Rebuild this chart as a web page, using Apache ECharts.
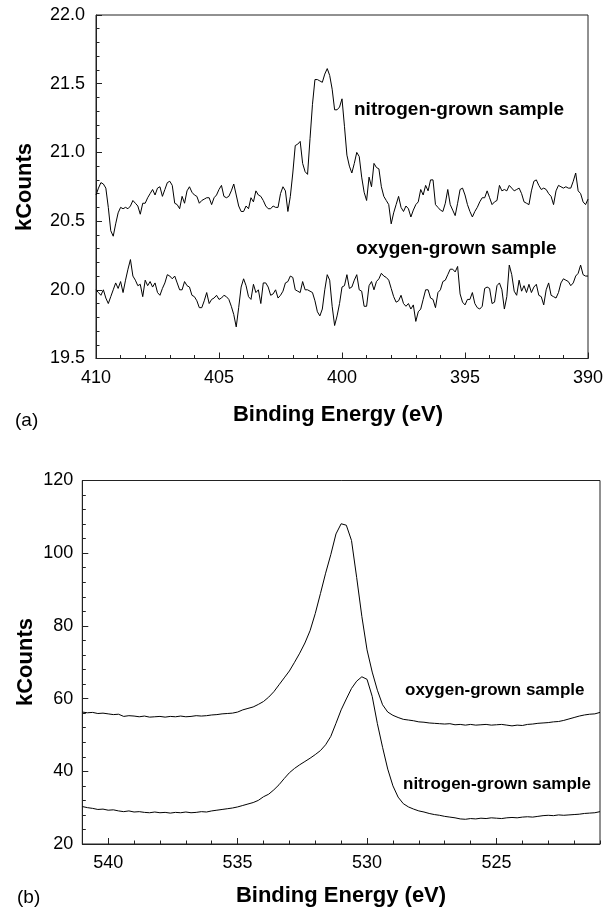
<!DOCTYPE html>
<html><head><meta charset="utf-8">
<script src="https://cdn.jsdelivr.net/npm/echarts@6/dist/echarts.min.js"></script>
<style>html,body{margin:0;padding:0;background:#fff}#c{width:616px;height:913px}</style>
</head><body><div id="c"></div>
<script>
// Panel (a): N 1s region, sampled every 0.1 eV from 410 eV down to 390 eV
const eStartA = 410, eStepA = -0.1;
const nitrogenA = [
20.69,20.74,20.78,20.77,20.74,20.60,20.43,20.39,20.48,20.56,
20.60,20.59,20.60,20.59,20.61,20.65,20.63,20.61,20.55,20.63,
20.63,20.67,20.70,20.73,20.69,20.74,20.75,20.68,20.73,20.78,
20.79,20.76,20.63,20.62,20.59,20.68,20.63,20.72,20.75,20.71,
20.69,20.68,20.63,20.65,20.66,20.67,20.67,20.62,20.67,20.69,
20.73,20.76,20.68,20.67,20.68,20.72,20.77,20.69,20.61,20.57,
20.57,20.61,20.59,20.67,20.64,20.72,20.69,20.68,20.65,20.61,
20.59,20.59,20.61,20.60,20.60,20.70,20.75,20.72,20.57,20.68,
20.85,21.05,21.06,21.08,20.92,20.86,20.84,21.10,21.35,21.53,
21.53,21.52,21.51,21.57,21.61,21.56,21.46,21.31,21.31,21.33,
21.39,21.19,20.98,20.90,20.85,20.92,21.00,20.97,20.82,20.71,
20.65,20.82,20.75,20.92,20.89,20.88,20.75,20.68,20.65,20.62,
20.48,20.56,20.62,20.68,20.60,20.57,20.61,20.59,20.53,20.58,
20.62,20.64,20.73,20.69,20.76,20.72,20.80,20.80,20.62,20.60,
20.58,20.57,20.63,20.73,20.62,20.58,20.54,20.63,20.73,20.74,
20.69,20.62,20.57,20.53,20.57,20.60,20.64,20.67,20.67,20.72,
20.67,20.62,20.64,20.65,20.76,20.72,20.73,20.72,20.76,20.74,
20.72,20.73,20.74,20.70,20.64,20.63,20.62,20.72,20.79,20.80,
20.76,20.73,20.74,20.73,20.70,20.68,20.62,20.72,20.76,20.75,
20.74,20.75,20.74,20.74,20.79,20.85,20.72,20.70,20.64,20.62,
20.66];
const oxygenA = [
20.00,19.98,19.96,20.00,19.94,19.90,19.95,20.00,20.05,20.01,
20.06,19.98,20.07,20.15,20.22,20.10,20.07,20.03,20.04,19.95,
20.07,20.03,20.06,20.02,20.05,19.98,19.96,20.01,20.05,20.11,
20.10,20.08,20.10,20.05,20.00,20.00,20.06,20.03,20.02,19.96,
19.95,19.92,19.87,19.87,19.92,19.98,19.90,19.93,19.94,19.96,
19.93,19.94,19.96,19.95,19.93,19.88,19.82,19.73,19.87,20.02,
20.08,20.03,19.95,19.93,20.04,19.98,20.00,19.90,20.05,20.05,
20.02,19.96,19.97,20.00,19.94,19.96,19.99,20.05,20.06,20.10,
20.09,20.00,19.99,19.98,20.06,20.00,20.00,19.99,19.98,19.92,
19.84,19.81,19.86,20.00,20.11,20.07,19.88,19.74,19.81,19.90,
20.02,20.03,20.11,20.01,20.02,20.07,20.11,20.00,19.99,19.88,
19.88,20.03,20.06,20.00,20.06,20.08,20.12,20.10,20.09,20.07,
20.01,19.95,19.91,19.92,19.96,19.90,19.88,19.90,19.86,19.89,
19.77,19.84,19.86,19.93,20.00,20.00,19.94,19.93,19.87,19.98,
20.00,20.06,20.07,20.11,20.15,20.15,20.13,20.17,19.97,19.91,
19.89,19.93,19.93,19.98,19.90,19.87,19.86,19.88,20.01,20.02,
20.01,19.90,19.91,20.03,20.05,20.00,19.86,19.95,20.18,20.11,
19.99,19.96,20.07,19.99,20.03,19.98,20.04,19.98,20.02,20.04,
19.96,19.95,19.89,20.00,20.05,19.96,19.95,19.94,19.98,20.05,
20.08,20.07,20.06,20.03,20.05,20.10,20.12,20.18,20.11,20.10,
20.10];

// Panel (b): O 1s region, sampled every 0.2 eV from 541 eV down to 521 eV
const eStartB = 541, eStepB = -0.2;
const oxygenB = [
56.3,56.1,56.2,55.9,56.0,55.8,55.6,55.7,55.1,55.3,
55.2,55.0,55.2,54.9,55.0,55.1,54.9,55.1,55.0,55.2,
55.0,55.1,55.3,55.2,55.3,55.5,55.6,55.8,55.9,56.0,
56.3,56.9,57.3,57.7,58.4,59.2,60.4,61.9,63.8,65.7,
67.6,70.0,72.5,75.3,78.7,83.4,88.9,94.5,99.6,105.3,
108.1,107.7,103.5,93.3,82.6,73.4,67.3,62.3,58.3,56.3,
55.4,54.8,54.3,54.1,53.9,53.6,53.5,53.3,53.2,53.1,
53.0,53.1,52.8,52.9,52.7,52.9,52.7,52.8,52.9,52.7,
52.8,52.9,52.7,52.5,52.7,52.6,52.9,53.0,53.2,53.3,
53.4,53.6,53.7,54.0,54.4,54.8,55.2,55.5,55.7,55.8,
56.2];
const nitrogenB = [
30.3,30.0,29.8,29.5,29.6,29.3,29.4,29.1,28.9,29.1,
28.8,28.9,28.7,28.6,28.8,28.6,28.7,28.5,28.7,28.6,
28.8,28.6,28.7,28.9,28.8,29.1,29.3,29.5,29.7,29.9,
30.2,30.6,31.0,31.4,32.0,33.0,33.7,34.9,36.3,38.0,
39.6,40.8,41.8,42.7,43.6,44.6,45.7,47.3,49.6,53.2,
56.9,59.9,62.8,64.8,66.0,65.3,60.6,53.1,46.6,40.6,
36.0,32.9,31.1,30.2,29.6,29.1,28.8,28.4,28.1,27.9,
27.6,27.4,27.2,26.9,26.8,27.0,26.9,27.1,27.0,27.2,
27.1,27.0,27.2,27.3,27.2,27.4,27.5,27.4,27.6,27.8,
27.9,27.8,28.0,27.9,28.0,28.1,28.2,28.4,28.5,28.6,
28.9];

const xTitle = 'Binding Energy (eV)';
const yTitle = 'kCounts';
const labelN = 'nitrogen-grown sample';
const labelO = 'oxygen-grown sample';

function pairs(start, step, vals, dec) {
  return vals.map((v, i) => [+(start + step * i).toFixed(dec), v]);
}

const FONT = '"Liberation Sans", Arial, Helvetica, sans-serif';
const BLACK = '#000';
const lineCol = '#222';

function tickAxisCommon() {
  return {
    axisLine: { show: true, lineStyle: { color: lineCol, width: 1 } },
    axisTick: { show: true, inside: true, length: 6, lineStyle: { color: lineCol, width: 1 } },
    minorTick: { show: true, splitNumber: 5, length: 3.5, lineStyle: { color: lineCol, width: 1 } },
    splitLine: { show: false },
    minorSplitLine: { show: false }
  };
}

const chart = echarts.init(document.getElementById('c'), null, { renderer: 'canvas' });

function txt(x, y, text, size, bold, align, rot) {
  return {
    type: 'text', x: x, y: y, rotation: rot || 0, silent: true,
    style: {
      text: text, fill: BLACK, fontSize: size, fontWeight: bold ? 'bold' : 'normal',
      fontFamily: FONT, align: align || 'center', textAlign: align || 'center',
      verticalAlign: 'middle', textVerticalAlign: 'middle'
    }
  };
}

const option = {
  animation: false,
  backgroundColor: '#fff',
  grid: [
    { left: 96, top: 15, width: 492, height: 343.5, show: true, borderColor: lineCol, borderWidth: 1,
      containLabel: false, outerBoundsMode: 'none' },
    { left: 82.3, top: 480.5, width: 517.7, height: 363.5, show: true, borderColor: lineCol, borderWidth: 1,
      containLabel: false, outerBoundsMode: 'none' }
  ],
  xAxis: [
    Object.assign(tickAxisCommon(), {
      type: 'value', gridIndex: 0, position: 'bottom', min: 390, max: 410, interval: 5, inverse: true,
      axisLabel: { fontSize: 18, color: BLACK, fontFamily: FONT, margin: 11 }
    }),
    Object.assign(tickAxisCommon(), {
      type: 'value', gridIndex: 1, position: 'bottom', min: 521, max: 541, splitNumber: 4, inverse: true,
      minorTick: { show: false },
      axisLabel: { fontSize: 18, color: BLACK, fontFamily: FONT, margin: 10, showMinLabel: false, showMaxLabel: false }
    }),
    {
      type: 'value', gridIndex: 1, position: 'bottom', offset: 0, min: 521, max: 541, interval: 1, inverse: true,
      axisLine: { show: false },
      axisTick: { show: true, inside: true, length: 3.5, lineStyle: { color: lineCol, width: 1 } },
      axisLabel: { show: false },
      splitLine: { show: false }
    }
  ],
  yAxis: [
    Object.assign(tickAxisCommon(), {
      type: 'value', gridIndex: 0, position: 'left', min: 19.5, max: 22, interval: 0.5,
      axisLabel: { fontSize: 18, color: BLACK, fontFamily: FONT, margin: 11,
        formatter: v => v.toFixed(1) }
    }),
    Object.assign(tickAxisCommon(), {
      type: 'value', gridIndex: 1, position: 'left', min: 20, max: 120, interval: 20,
      axisLabel: { fontSize: 18, color: BLACK, fontFamily: FONT, margin: 9 }
    })
  ],
  series: [
    { type: 'line', name: labelN + ' (a)', xAxisIndex: 0, yAxisIndex: 0, data: pairs(eStartA, eStepA, nitrogenA, 1),
      showSymbol: false, symbol: 'none', lineStyle: { color: BLACK, width: 1 }, silent: true },
    { type: 'line', name: labelO + ' (a)', xAxisIndex: 0, yAxisIndex: 0, data: pairs(eStartA, eStepA, oxygenA, 1),
      showSymbol: false, symbol: 'none', lineStyle: { color: BLACK, width: 1 }, silent: true },
    { type: 'line', name: labelO + ' (b)', xAxisIndex: 1, yAxisIndex: 1, data: pairs(eStartB, eStepB, oxygenB, 1),
      showSymbol: false, symbol: 'none', lineStyle: { color: BLACK, width: 1 }, silent: true },
    { type: 'line', name: labelN + ' (b)', xAxisIndex: 1, yAxisIndex: 1, data: pairs(eStartB, eStepB, nitrogenB, 1),
      showSymbol: false, symbol: 'none', lineStyle: { color: BLACK, width: 1 }, silent: true }
  ],
  graphic: [
    txt(25, 187, yTitle, 22, true, 'center', Math.PI / 2),
    txt(338, 415, xTitle, 22, true, 'center'),
    txt(15, 421, '(a)', 19, false, 'left'),
    txt(354, 110, labelN, 19, true, 'left'),
    txt(356, 249, labelO, 19, true, 'left'),
    txt(26, 662, yTitle, 22, true, 'center', Math.PI / 2),
    txt(341, 896, xTitle, 22, true, 'center'),
    txt(17, 898, '(b)', 19, false, 'left'),
    txt(405, 690, labelO, 17, true, 'left'),
    txt(403, 784, labelN, 17, true, 'left')
  ]
};
chart.setOption(option);
</script>
</body></html>
